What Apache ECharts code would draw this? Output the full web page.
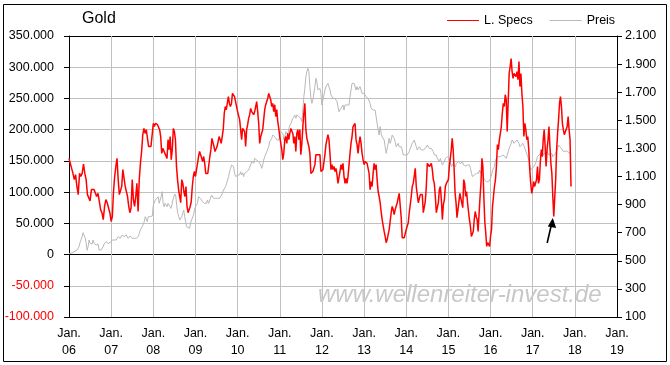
<!DOCTYPE html>
<html>
<head>
<meta charset="utf-8">
<script src="https://cdn.jsdelivr.net/npm/echarts@6/dist/echarts.min.js"></script>
<style>html,body{margin:0;padding:0;background:#fff}#c{width:670px;height:365px}</style>
</head>
<body>
<div id="c"></div>
<script>
const chartTitle = 'Gold';
const seriesNames = ['L. Specs', 'Preis'];
const seriesColors = ['#ff0000', '#b8b8b8'];
const watermark = 'www.wellenreiter-invest.de';
const yearTicks = [2006, 2007, 2008, 2009, 2010, 2011, 2012, 2013, 2014, 2015, 2016, 2017, 2018, 2019];
const leftTicks = [-100000, -50000, 0, 50000, 100000, 150000, 200000, 250000, 300000, 350000];
const rightTicks = [100, 300, 500, 700, 900, 1100, 1300, 1500, 1700, 1900, 2100];

// L. Specs (net long speculators, thousand contracts), roughly weekly readings per year
const specs2006 = [154,146,144,130,120,128,109,96,130,125,130,145,130,120,96,98,86,104,106,104,106,93,98,85,72,67,56,77,88,83,83,67];
const specs2007 = [53,61,101,125,141,154,120,96,96,109,136,133,109,112,93,77,67,75,120,88,77,93,114,69,120,146,165,192,202,194,200,197,173,170,173,176];
const specs2008 = [210,205,210,208,208,210,200,189,162,170,168,162,160,154,184,168,189,152,168,202,197,184,141,120,104,93,83,120,114,101,93,109,77,67,67,77,85,109,125,133];
const specs2009 = [125,128,146,157,165,160,157,149,157,146,130,128,130,130,157,168,186,184,173,165,162,173,176,189,184,178,189,200,226,237,232,234,253,242,237,242,258,261,253,250,237];
const specs2010 = [229,226,216,200,184,202,205,197,173,200,208,218,224,234,229,232,224,229,232,245,229,210,178,189,186,200,216,232,240,245,250,258,256,248,237,242,229,240,221,232,213,202];
const specs2011 = [189,178,168,152,162,184,189,178,194,184,194,202,205,194,178,189,165,194,200,184,200,160,178,205,226,242,200,186,184,173,162,130,130,133,130,144,160,157,160,157,160,133];
const specs2012 = [133,136,138,160,176,173,192,184,162,136,144,136,141,133,138,128,114,112,133,144,136,146,125,114,122,114,125,125,162,178,189,205,208,210,184,176,162,178,189,178,162,152];
const specs2013 = [144,149,152,146,138,130,104,117,109,130,146,136,144,120,101,93,83,69,56,53,37,29,19,24,27,40,53,67,77,72,64,72,72,83,80,98,101,59,27,25,27,29];
const specs2014 = [40,43,51,67,69,93,109,114,117,138,109,109,83,80,96,98,96,67,69,85,109,146,149,141,144,146,136,120,114,93,67,67,83,104,109,88,56,80,88,109,114,117];
const specs2015 = [120,141,154,168,186,168,136,98,83,59,72,72,98,101,96,75,120,114,93,101,83,69,56,45,29,27,37,56,69,61,56,37,64,91,114,154,141,93,53,35,13,19,18,13];
const specs2016 = [29,40,77,93,109,120,141,176,168,184,194,205,226,242,237,256,248,197,245,290,301,314,293,282,290,293,285,293,280,309,269,290,258,237,189,210,200,184,189,168,136,114,98];
const specs2017 = [106,117,109,114,120,141,114,120,149,168,157,184,200,173,141,168,184,205,173,146,130,93,61,62,120,168,194,216,242,253,237,210,200,192,194,192,205,221,200,184,109];

// Preis (gold price, USD), roughly weekly readings per year
const price2006 = [550,555,553,562,560,558,568,572,577,590,600,630,650,670,700,690,665,630,575,600,648,624,636,620,648,624,636,612,600,620,577,589,577,589,600,620,624,636,636,624,636,629];
const price2007 = [636,648,660,648,660,648,660,672,672,660,672,684,695,672,684,684,672,660,672,677,672,660,648,660,648,660,653,672,695,719,731,743,755,779,814,803,779,814,803,814,814,819];
const price2008 = [897,909,933,921,945,956,909,933,956,992,909,885,909,921,885,909,897,921,873,897,933,956,975,956,885,838,814,790,779,814,838,861,814,779,743,731,743,731,767,790,779,826,861];
const price2009 = [885,897,909,956,968,945,956,921,933,909,897,909,933,909,921,945,968,980,945,933,945,933,945,956,945,956,968,980,1004,992,1028,1051,1075,1099,1134,1158,1182,1194,1170,1123,1099,1087];
const price2010 = [1111,1099,1111,1134,1111,1127,1099,1123,1111,1134,1123,1146,1158,1182,1206,1217,1194,1229,1241,1217,1229,1206,1194,1182,1158,1182,1217,1241,1253,1277,1289,1312,1348,1360,1372,1395,1407,1383,1395,1360,1348,1360];
const price2011 = [1395,1419,1431,1407,1360,1383,1419,1431,1395,1443,1431,1478,1490,1514,1526,1538,1514,1538,1550,1526,1538,1514,1490,1573,1668,1728,1811,1846,1870,1846,1740,1656,1621,1645,1656,1740,1799,1775,1716,1704,1728,1692];
const price2012 = [1609,1621,1680,1716,1740,1751,1763,1775,1716,1680,1668,1656,1645,1656,1645,1633,1597,1561,1550,1585,1573,1609,1573,1609,1597,1609,1621,1609,1668,1716,1763,1775,1763,1751,1716,1740,1716,1728,1740,1716,1692,1704];
const price2013 = [1692,1680,1668,1680,1656,1645,1621,1585,1597,1573,1585,1573,1561,1478,1431,1395,1455,1407,1383,1395,1360,1312,1265,1300,1289,1372,1336,1360,1395,1407,1372,1348,1312,1300,1336,1312,1300,1312,1289,1253,1241,1253];
const price2014 = [1241,1253,1265,1277,1300,1289,1336,1348,1360,1348,1312,1289,1300,1312,1300,1289,1300,1289,1277,1300,1312,1324,1312,1300,1312,1300,1289,1277,1253,1265,1253,1229,1217,1206,1229,1217,1182,1194,1206,1229,1217,1241];
const price2015 = [1253,1229,1206,1170,1182,1194,1182,1170,1194,1182,1206,1194,1189,1194,1206,1182,1170,1175,1170,1182,1170,1182,1158,1123,1099,1099,1111,1111,1123,1111,1123,1146,1123,1146,1111,1099,1075,1075,1063,1075,1063,1056];
const price2016 = [1087,1111,1146,1158,1170,1217,1229,1241,1253,1229,1241,1253,1229,1253,1265,1241,1229,1253,1277,1300,1312,1336,1360,1360,1336,1348,1336,1360,1348,1336,1312,1324,1312,1336,1324,1300,1289,1289,1241,1217,1182,1146,1134];
const price2017 = [1158,1170,1182,1194,1217,1241,1229,1241,1265,1253,1241,1253,1265,1253,1265,1277,1265,1253,1265,1253,1265,1241,1253,1253,1265,1277,1300,1324,1336,1317,1300,1289,1277,1284,1277,1282,1277,1277,1270,1260];

// readings per full year for the last (partial) year
const slots2017 = 44;

const specYears = [[2006,specs2006],[2007,specs2007],[2008,specs2008],[2009,specs2009],[2010,specs2010],[2011,specs2011],[2012,specs2012],[2013,specs2013],[2014,specs2014],[2015,specs2015],[2016,specs2016],[2017,specs2017,slots2017]];
const priceYears = [[2006,price2006],[2007,price2007],[2008,price2008],[2009,price2009],[2010,price2010],[2011,price2011],[2012,price2012],[2013,price2013],[2014,price2014],[2015,price2015],[2016,price2016],[2017,price2017,slots2017]];

function toPoints(list, scale) {
  const pts = [];
  list.forEach(([yr, vals, slots]) => {
    const n = slots || vals.length;
    vals.forEach((v, i) => pts.push([yr + i / n, v * scale]));
  });
  return pts;
}
function fmt(v) {
  v = Number(v);
  const s = String(Math.abs(v)).replace(/\B(?=(\d{3})+(?!\d))/g, '.');
  return (v < 0 ? '-' : '') + s;
}

const FONT = '"Liberation Sans", Arial, sans-serif';
const GRIDC = '#c0c0c0';
const lastIdx = (a) => a.length - 1;
const leftSplitColors = leftTicks.map((v, i) => (v === 0 || i === 0 || i === lastIdx(leftTicks)) ? '#000' : GRIDC);
const xSplitColors = yearTicks.map((v, i) => (i === 0 || i === lastIdx(yearTicks)) ? '#000' : GRIDC);

const chart = echarts.init(document.getElementById('c'), null, {renderer: 'canvas'});
const option = {
  animation: false,
  backgroundColor: '#fff',
  textStyle: {fontFamily: FONT},
  title: {
    text: chartTitle, left: 82, top: 11, padding: 0,
    textStyle: {fontSize: 16, fontWeight: 'normal', color: '#000', fontFamily: FONT, lineHeight: 16}
  },
  legend: {
    data: seriesNames.map((n, i) => ({name: n, itemStyle: {color: seriesColors[i], borderWidth: 0, opacity: 1}})),
    left: 447, top: 14, icon: 'rect', itemWidth: 32, itemHeight: 1, itemGap: 17,
    selectedMode: false, padding: 0, inactiveColor: '#ccc',
    textStyle: {fontSize: 12.5, color: '#000', fontFamily: FONT}
  },
  grid: {left: 69, right: 53, top: 36, bottom: 48, containLabel: false},
  xAxis: {
    type: 'value', min: yearTicks[0], max: yearTicks[lastIdx(yearTicks)], interval: 1,
    axisLine: {show: true, onZero: false, lineStyle: {color: '#000', width: 1}},
    axisTick: {show: false},
    splitLine: {show: true, lineStyle: {color: xSplitColors, width: 1}},
    axisLabel: {
      formatter: (v) => 'Jan.\n' + String(v).slice(2), margin: 8, lineHeight: 17,
      fontSize: 12.5, color: '#000', fontFamily: FONT, showMinLabel: true, showMaxLabel: true, hideOverlap: false
    }
  },
  yAxis: [{
    type: 'value', position: 'left', min: leftTicks[0], max: leftTicks[lastIdx(leftTicks)], interval: 50000,
    axisLine: {show: true, onZero: false, lineStyle: {color: '#000', width: 1}},
    axisTick: {show: true, length: 5, lineStyle: {color: '#000'}},
    splitLine: {show: true, lineStyle: {color: leftSplitColors, width: 1}},
    axisLabel: {formatter: fmt, margin: 15, fontSize: 12.5, fontFamily: FONT,
      color: (v) => Number(v) < 0 ? '#ff0000' : '#000'}
  }, {
    type: 'value', position: 'right', min: rightTicks[0], max: rightTicks[lastIdx(rightTicks)], interval: 200,
    axisLine: {show: true, onZero: false, lineStyle: {color: '#000', width: 1}},
    axisTick: {show: true, length: 5, lineStyle: {color: '#000'}, customValues: rightTicks},
    splitLine: {show: false},
    axisLabel: {formatter: fmt, margin: 8, fontSize: 12.5, fontFamily: FONT, color: '#000', customValues: rightTicks}
  }],
  series: [{
    name: seriesNames[0], type: 'line', xAxisIndex: 0, yAxisIndex: 0, data: toPoints(specYears, 1000),
    showSymbol: false, symbol: 'none', color: seriesColors[0], itemStyle: {color: seriesColors[0]},
    lineStyle: {color: seriesColors[0], width: 1.5}, z: 3, silent: true
  }, {
    name: seriesNames[1], type: 'line', xAxisIndex: 0, yAxisIndex: 1, data: toPoints(priceYears, 1),
    showSymbol: false, symbol: 'none', color: seriesColors[1], itemStyle: {color: seriesColors[1]},
    lineStyle: {color: seriesColors[1], width: 1}, z: 2, silent: true
  }],
  graphic: {elements: [
    {type: 'rect', id: 'frame', shape: {x: 3.5, y: 4.5, width: 663, height: 357},
     style: {fill: 'none', stroke: '#000', lineWidth: 1}, silent: true, z: 100},
    {type: 'text', id: 'wm', x: 318, y: 295, silent: true, z: 1,
     style: {text: watermark, font: 'italic 24px "Liberation Sans", Arial, sans-serif', fill: '#c8c8c8', verticalAlign: 'middle'}}
  ]}
};
chart.setOption(option);

// arrow pointing at the 2017 low of L. Specs
const lowVal = Math.min(...specs2017);
const lowIdx = specs2017.indexOf(lowVal);
const p = chart.convertToPixel({xAxisIndex: 0, yAxisIndex: 0}, [2017 + lowIdx / slots2017, lowVal * 1000]);
const tip = [p[0] - 1, p[1] + 1.5];
chart.setOption({graphic: {elements: [
  {type: 'line', id: 'arrowShaft', silent: true, z: 50,
   shape: {x1: tip[0] - 5.6, y1: tip[1] + 25, x2: tip[0] - 1.2, y2: tip[1] + 6},
   style: {stroke: '#000', lineWidth: 1.6}},
  {type: 'polygon', id: 'arrowHead', silent: true, z: 50,
   shape: {points: [[tip[0], tip[1]], [tip[0] - 5, tip[1] + 8.5], [tip[0] + 3.4, tip[1] + 10]]},
   style: {fill: '#000'}}
]}});
</script>
</body>
</html>
